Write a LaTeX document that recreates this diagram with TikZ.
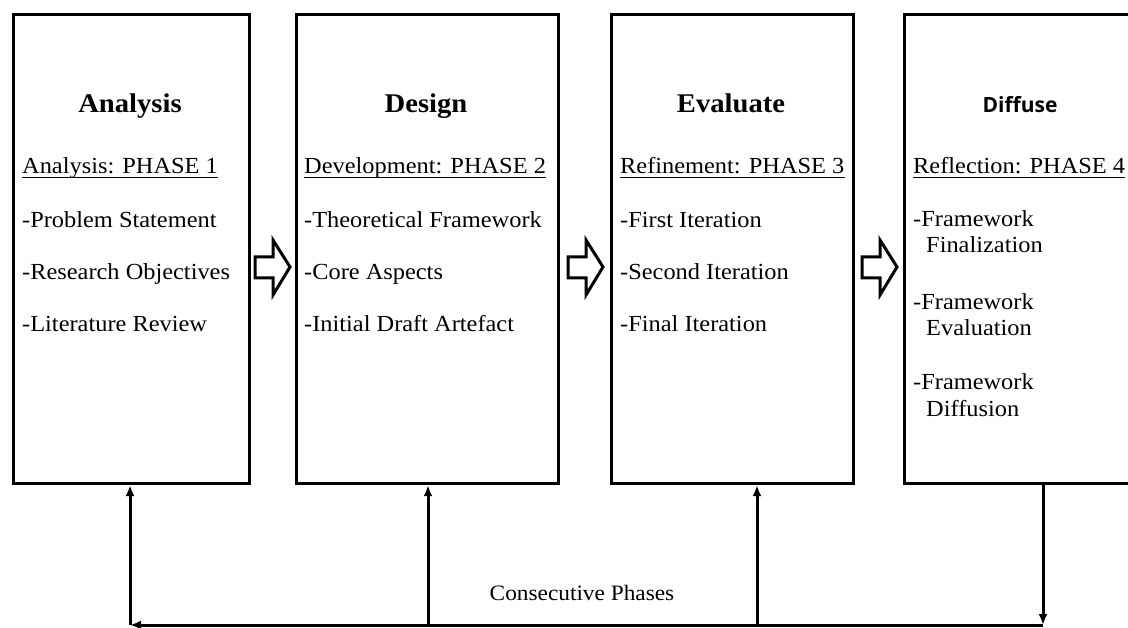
\documentclass[tikz,border=0pt]{standalone}
\usepackage{fontspec}
\setmainfont[FakeStretch=1.06]{Liberation Serif}
\newfontfamily\sanshead{Open Sans}
\usetikzlibrary{arrows.meta}

\begin{document}
\begin{tikzpicture}[x=1pt,y=-1pt,
  phasebox/.style={draw, line width=3.2pt, anchor=north west, inner sep=0pt, minimum height=469pt},
  headline/.style={anchor=base, inner sep=0pt, font=\fontsize{27}{31}\selectfont\bfseries},
  bodytext/.style={anchor=base west, inner sep=0pt, font=\fontsize{23}{27}\selectfont},
  uline/.style={line width=1.4pt},
  conn/.style={line width=3pt},
  tip/.style={-{Latex[length=11pt,width=9pt]}},
  hollow/.style={draw, line width=3pt, line join=miter, fill=white}]
\useasboundingbox (0,0) rectangle (1128,628);

% the four phase boxes
\node[phasebox, minimum width=236pt] (b1) at (12,13) {};
\node[phasebox, minimum width=262pt] (b2) at (295,13) {};
\node[phasebox, minimum width=242pt] (b3) at (610,13) {};
\node[phasebox, minimum width=236pt] (b4) at (903,13) {};

% headings
\node[headline] (t1) at (130,113) {Analysis};
\node[headline] (t2) at (426,113) {Design};
\node[headline] (t3) at (731,113) {Evaluate};
\node[anchor=base, inner sep=0pt, font=\sanshead\fontsize{21}{25}\selectfont\bfseries] (t4) at (1020,113) {Diffuse};

% phase labels (underlined)
\node[bodytext] (p1) at (22,174) {Analysis: PHASE 1};
\node[bodytext] (p2) at (304,174) {Development: PHASE 2};
\node[bodytext] (p3) at (620,174) {Refinement: PHASE 3};
\node[bodytext] (p4) at (913,174) {Reflection: PHASE 4};
\foreach \p in {p1,p2,p3,p4}
  \draw[uline] ([yshift=-3.5pt]\p.base west) -- ([yshift=-3.5pt]\p.base east);

% phase 1 items
\node[bodytext] (a1) at (22,228) {-Problem Statement};
\node[bodytext] (a2) at (22,280) {-Research Objectives};
\node[bodytext] (a3) at (22,332) {-Literature Review};

% phase 2 items
\node[bodytext] (d1) at (304,228) {-Theoretical Framework};
\node[bodytext] (d2) at (304,280) {-Core Aspects};
\node[bodytext] (d3) at (304,332) {-Initial Draft Artefact};

% phase 3 items
\node[bodytext] (e1) at (620,228) {-First Iteration};
\node[bodytext] (e2) at (620,280) {-Second Iteration};
\node[bodytext] (e3) at (620,332) {-Final Iteration};

% phase 4 items
\node[bodytext] (f1) at (913,227) {-Framework};
\node[bodytext] (f1b) at (926,253) {Finalization};
\node[bodytext] (f2) at (913,310) {-Framework};
\node[bodytext] (f2b) at (926,336) {Evaluation};
\node[bodytext] (f3) at (913,390) {-Framework};
\node[bodytext] (f3b) at (926,417) {Diffusion};

% hollow block arrows between the boxes
\foreach \dx in {0,313,607}
  \draw[hollow, shift={(\dx,0)}]
    (255,257) -- (273,257) -- (273,240) -- (290,267) -- (273,295) -- (273,278) -- (255,278) -- cycle;

% feedback loop along the bottom
\coordinate (c1) at (130,625);
\coordinate (c2) at (428,625);
\coordinate (c3) at (757,625);
\coordinate (c4) at (1043,625);
\draw[conn, tip] (b4.south -| c4) -- (c4);
\draw[conn, tip] (c4) -- (c1);
\draw[conn, tip] (c1) -- (b1.south -| c1);
\draw[conn, tip] (c2) -- (b2.south -| c2);
\draw[conn, tip] (c3) -- (b3.south -| c3);

\node[anchor=base, inner sep=0pt, font=\fontsize{22}{26}\selectfont] (lbl) at (582,600) {Consecutive Phases};
\end{tikzpicture}
\end{document}
